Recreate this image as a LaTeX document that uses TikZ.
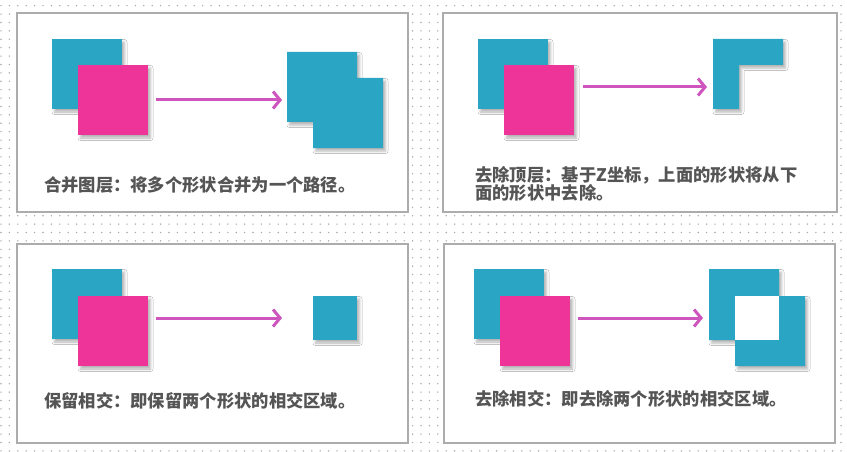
\documentclass[tikz,border=0pt]{standalone}
\usepackage{fontspec}
\newfontfamily\cjk{Noto Sans CJK SC}
\usetikzlibrary{arrows.meta,shadows.blur}
\definecolor{tealc}{RGB}{42,166,196}
\definecolor{pinkc}{RGB}{238,52,152}
\definecolor{arrc}{RGB}{206,84,190}
\definecolor{dotc}{RGB}{170,170,170}
\definecolor{framec}{RGB}{172,172,172}
\definecolor{textc}{RGB}{85,85,85}
\tikzset{
  myshadow/.style={blur shadow={shadow xshift=2.5pt,shadow yshift=-3pt,shadow blur radius=2.5pt,shadow opacity=30}},
  panel/.style={fill=white,draw=framec,line width=1.5pt},
  dotrow/.style={draw=dotc,line width=1.6pt,line cap=round,dash pattern=on 0pt off 8.4pt},
  tealsq/.style={fill=tealc,draw=none,minimum size=70pt,inner sep=0pt,outer sep=0pt,anchor=north west,myshadow},
  pinksq/.style={fill=pinkc,draw=none,minimum size=70pt,inner sep=0pt,outer sep=0pt,anchor=north west,myshadow},
  arr/.style={draw=arrc,line width=3pt,-{Straight Barb[length=7pt,width=17pt,line width=3pt]}},
  caption/.style={anchor=west,inner sep=0pt,text=textc,font=\cjk\bfseries\fontsize{17.3}{18}\selectfont,align=left}
}
\begin{document}
\begin{tikzpicture}[x=1pt,y=-1pt]
\useasboundingbox (0,0) rectangle (847,452);
\fill[white] (0,0) rectangle (847,452);
% dotted background
\foreach \j in {0,...,54} { \draw[dotrow] (1,5.7+\j*8.4) -- (850,5.7+\j*8.4); }
% panels
\draw[panel] (17,13) rectangle (408,212);
\draw[panel] (443,13) rectangle (837,212);
\draw[panel] (17,244) rectangle (408,443);
\draw[panel] (444,244) rectangle (835,443);

% ---- panel 1: union
\node[tealsq] (a1) at (52,39) {};
\node[pinksq] (b1) at (78,65) {};
\coordinate (s1) at (156,100);
\coordinate (e1) at (282,100);
\draw[arr] (s1) -- (e1);
\fill[tealc,myshadow] (287,52) -- (357,52) -- (357,78) -- (383,78) -- (383,148) -- (313,148) -- (313,122) -- (287,122) -- cycle;
\node[caption] (t1) at (44,185) {合并图层：将多个形状合并为一个路径。};

% ---- panel 2: minus front
\node[tealsq] (a2) at (478,39) {};
\node[pinksq] (b2) at (504,65) {};
\coordinate (s2) at (583,87);
\coordinate (e2) at (707,87);
\draw[arr] (s2) -- (e2);
\fill[tealc,myshadow] (713,39) -- (783,39) -- (783,65) -- (739,65) -- (739,109) -- (713,109) -- cycle;
\node[caption] (t2) at (475,184) {去除顶层：基于Z坐标，上面的形状将从下\\面的形状中去除。};

% ---- panel 3: intersect
\node[tealsq] (a3) at (52,269) {};
\node[pinksq] (b3) at (78,296) {};
\coordinate (s3) at (156,318);
\coordinate (e3) at (282,318);
\draw[arr] (s3) -- (e3);
\node[tealsq,minimum size=44pt] (i3) at (313,296) {};
\node[caption] (t3) at (44,401) {保留相交：即保留两个形状的相交区域。};

% ---- panel 4: exclude
\node[tealsq] (a4) at (474,269) {};
\node[pinksq] (b4) at (500,296) {};
\coordinate (s4) at (578,318);
\coordinate (e4) at (703,318);
\draw[arr] (s4) -- (e4);
\fill[tealc,myshadow] (709,269) -- (779,269) -- (779,296) -- (805,296) -- (805,366) -- (735,366) -- (735,340) -- (709,340) -- cycle;
\fill[white] (735,296) rectangle (779,340);
\node[caption] (t4) at (475,399) {去除相交：即去除两个形状的相交区域。};
\end{tikzpicture}
\end{document}
